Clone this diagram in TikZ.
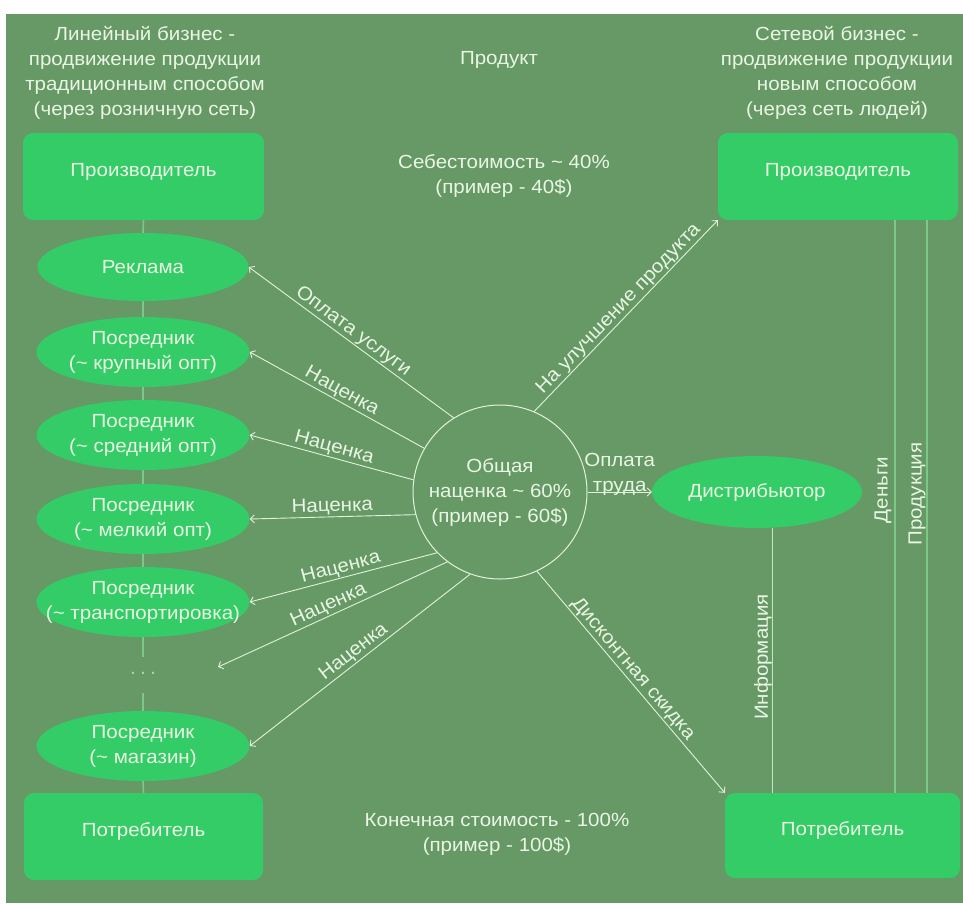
\documentclass[tikz,border=0pt]{standalone}
\usepackage{fontspec}
\setmainfont{Liberation Sans}[FakeStretch=1.08]
\usetikzlibrary{shapes.geometric,arrows.meta}
\definecolor{bg}{HTML}{669966}
\definecolor{boxc}{HTML}{33CC66}
\definecolor{txt}{HTML}{EAF6E4}
\definecolor{lnk}{HTML}{7CC886}
\definecolor{arr}{HTML}{E2F2DA}
\begin{document}
\begin{tikzpicture}[x=1pt,y=-1pt,
  every node/.style={font=\fontsize{19}{25}\selectfont, text=txt},
  ttl/.style={align=center, inner sep=0pt},
  rbox/.style={fill=boxc, rounded corners=10pt, minimum width=241pt, minimum height=87pt, text height=10pt, text depth=10pt, inner sep=0pt},
  ell/.style={ellipse, fill=boxc, minimum width=213pt, minimum height=70pt, inner sep=0pt, align=center},
  circ/.style={circle, draw=arr, line width=1pt, minimum size=174pt, inner sep=0pt, align=center},
  lnkline/.style={draw=lnk, line width=1.6pt},
  vline/.style={draw=lnk, line width=1.2pt},
  infline/.style={draw=arr!70!lnk, line width=0.8pt},
  ar/.style={draw=arr, line width=0.9pt, -{Straight Barb[length=4pt,width=8pt]}},
  lbl/.style={sloped, above, inner sep=1pt}
]
\fill[white] (0,0) rectangle (963,903);
\fill[bg] (6,14) rectangle (963,903);
\useasboundingbox (0,0) rectangle (963,903);

% titles and middle texts
\node[ttl] (tl) at (145,73) {Линейный бизнес -\\продвижение продукции\\традиционным способом\\(через розничную сеть)};
\node[ttl] (tr) at (837,73) {Сетевой бизнес -\\продвижение продукции\\новым способом\\(через сеть людей)};
\node[ttl] (prod) at (499,60) {Продукт};
\node[ttl] (seb) at (504,176) {Себестоимость \textasciitilde{} 40\%\\(пример - 40\$)};
\node[ttl] (kon) at (497,834) {Конечная стоимость - 100\%\\(пример - 100\$)};

% left column
\node[rbox] (pl) at (143.5,176.5) {Производитель};
\node[ell, minimum height=68pt, minimum width=211pt] (rek) at (143,267) {Реклама};
\node[ell] (p1) at (143,352) {Посредник\\(\textasciitilde{} крупный опт)};
\node[ell] (p2) at (143,435) {Посредник\\(\textasciitilde{} средний опт)};
\node[ell] (p3) at (143,519) {Посредник\\(\textasciitilde{} мелкий опт)};
\node[ell, inner xsep=-30pt] (p4) at (143,602) {Посредник\\(\textasciitilde{} транспортировка)};
\node[inner sep=0pt, minimum height=36pt, text=lnk!55!txt] (dots) at (143,675) {·\,·\,·};
\node[ell] (p5) at (143,746) {Посредник\\(\textasciitilde{} магазин)};
\node[rbox, minimum width=239pt] (cl) at (143.5,836.5) {Потребитель};

\draw[lnkline] (pl.south) -- (rek.north);
\draw[lnkline] (rek.south) -- (p1.north);
\draw[lnkline] (p1.south) -- (p2.north);
\draw[lnkline] (p2.south) -- (p3.north);
\draw[lnkline] (p3.south) -- (p4.north);
\draw[lnkline] (p4.south) -- (dots.north);
\draw[lnkline] (dots.south) -- (p5.north);
\draw[lnkline] (p5.south) -- (cl.north);

% right column
\node[rbox, minimum width=240pt] (pr) at (838,176.5) {Производитель};
\node[ell, minimum width=210pt, minimum height=72pt] (dist) at (757,492) {Дистрибьютор};
\node[rbox, minimum width=235pt, minimum height=85pt] (cr) at (842.5,835.5) {Потребитель};

\draw[vline] ([xshift=57pt]pr.south) -- ([xshift=57pt]pr.south |- cr.north);
\draw[vline] ([xshift=89pt]pr.south) -- ([xshift=89pt]pr.south |- cr.north);
\draw[infline] ([xshift=15pt]dist.south) -- ([xshift=15pt]dist.south |- cr.north);
\node[ttl, rotate=90] (den) at (883,490) {Деньги};
\node[ttl, rotate=90] (prk) at (917,494) {Продукция};
\node[ttl, rotate=90] (inf) at (763,657) {Информация};

% centre circle
\node[circ] (c) at (500,492) {Общая\\наценка \textasciitilde{} 60\%\\(пример - 60\$)};
\coordinate (dotsarr) at (218,667);

\draw[ar] (c.122) -- node[lbl, pos=0.52] {Оплата услуги} (rek.east);
\draw[ar] (c.150) -- node[lbl] {Наценка} (p1.east);
\draw[ar] (c.172) -- node[lbl] {Наценка} (p2.east);
\draw[ar] (c.195) -- node[lbl] {Наценка} (p3.east);
\draw[ar] (c.224) -- node[lbl] {Наценка} (p4.east);
\draw[ar] (c.233) -- node[lbl] {Наценка} (dotsarr);
\draw[ar] (c.250) -- node[lbl] {Наценка} (p5.east);

\draw[ar] (c.67) -- node[lbl, pos=0.5] {На улучшение продукта} (pr.south west);
\draw[ar] (c.east) -- node[above, inner sep=0pt, yshift=-4pt, align=center] {Оплата\\труда} (dist.west);
\draw[ar] (c.-65) -- node[lbl, pos=0.47] {Дисконтная скидка} (cr.north west);
\end{tikzpicture}
\end{document}
